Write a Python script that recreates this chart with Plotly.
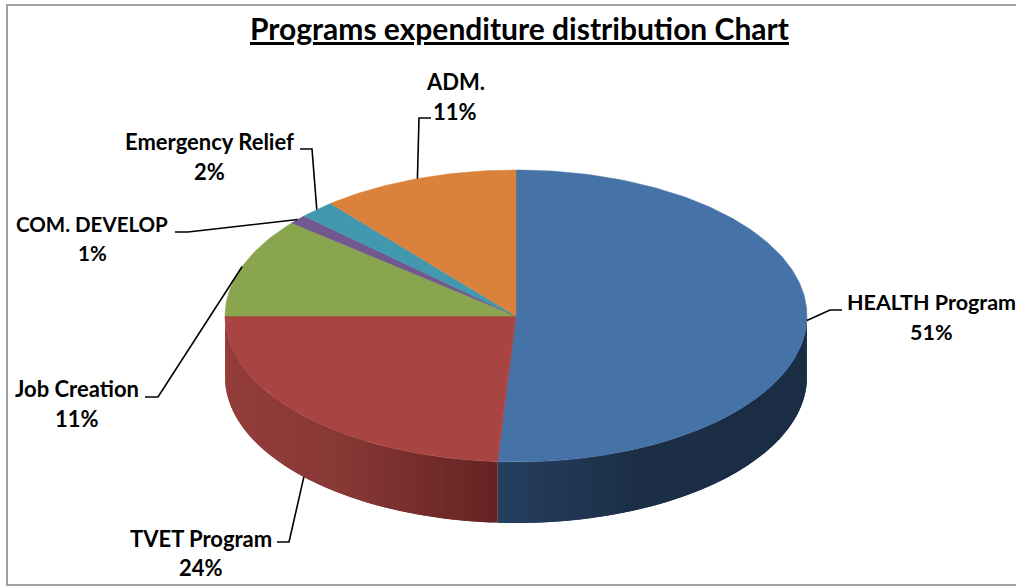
import math
import plotly.graph_objects as go

# Programme shares of total expenditure, in percent, clockwise from twelve o'clock
programs = ["HEALTH Program", "TVET Program", "Job Creation", "COM. DEVELOP", "Emergency Relief", "ADM."]
shares = [51, 24, 11, 1, 2, 11]
top_colors = ["#4572A7", "#A84542", "#89A54E", "#71588F", "#4198AF", "#DA823C"]

TITLE = "Programs expenditure distribution Chart"
FONT = "Lato, Carlito, Calibri, sans-serif"

# Projected pie geometry, in page pixels
CX, CY, RX, RY, DEPTH = 516, 316, 291, 146, 61

# Wall shading: (page x, rgb) stops per front-facing slice
wall_stops = {
    "HEALTH Program": [(496, (38, 64, 97)), (640, (27, 46, 70)), (807, (27, 45, 68))],
    "TVET Program": [(225, (148, 61, 58)), (340, (136, 56, 53)), (496, (101, 36, 35))],
}

# Name-line centre, line gap, font size and leader elbow positions for each label
label_layout = {
    "HEALTH Program": dict(x=931, y=302, gap=30, size=21.5, elbow=[(830, 310), (842, 310)]),
    "TVET Program": dict(x=201, y=538, gap=29, size=22, elbow=[(289, 542), (277, 542)]),
    "Job Creation": dict(x=77, y=388, gap=30, size=22, elbow=[(158, 397), (145, 397)]),
    "COM. DEVELOP": dict(x=92, y=224, gap=29, size=20.5, elbow=[(188, 232), (175, 232)]),
    "Emergency Relief": dict(x=209, y=141, gap=30, size=22, elbow=[(312, 149), (300, 149)]),
    "ADM.": dict(x=455, y=81, gap=30, size=22, elbow=[(419, 118), (431, 118)]),
}


def point(frac, drop=0.0):
    a = 2 * math.pi * frac
    return CX + RX * math.sin(a), CY - RY * math.cos(a) + drop


def shade(stops, x):
    if x <= stops[0][0]:
        return stops[0][1]
    for (x0, c0), (x1, c1) in zip(stops, stops[1:]):
        if x <= x1:
            t = (x - x0) / (x1 - x0)
            return tuple(round(a + (b - a) * t) for a, b in zip(c0, c1))
    return stops[-1][1]


total = sum(shares)
bounds = [0]
for s in shares:
    bounds.append(bounds[-1] + s / total)

fig = go.Figure()

# Front wall of the disc: overlapping narrow strips, painted in order, give the gradient
for name, f0, f1 in zip(programs, bounds, bounds[1:]):
    lo, hi = max(f0, 0.25), min(f1, 0.75)
    if lo >= hi or name not in wall_stops:
        continue
    n = max(2, int((hi - lo) * 300))
    for i in range(n):
        a = lo + (hi - lo) * i / n
        b = min(hi, lo + (hi - lo) * (i + 2) / n)
        arc = [a + (b - a) * k / 6 for k in range(7)]
        top = [point(f) for f in arc]
        bot = [point(f, DEPTH) for f in reversed(arc)]
        pts = top + bot + top[:1]
        r, g, bl = shade(wall_stops[name], point(a)[0])
        fig.add_trace(go.Scatter(
            x=[p[0] for p in pts], y=[p[1] for p in pts],
            mode="lines", fill="toself", fillcolor=f"rgb({r},{g},{bl})",
            line=dict(width=0), hoverinfo="skip", showlegend=False,
        ))

# Top face of each slice
for name, share, col, f0, f1 in zip(programs, shares, top_colors, bounds, bounds[1:]):
    n = max(6, int((f1 - f0) * 360))
    arc = [f0 + (f1 - f0) * k / n for k in range(n + 1)]
    pts = [(CX, CY)] + [point(f) for f in arc] + [(CX, CY)]
    fig.add_trace(go.Scatter(
        x=[p[0] for p in pts], y=[p[1] for p in pts],
        mode="lines", fill="toself", fillcolor=col,
        line=dict(color=col, width=0.5), name=name,
        text=f"{name}: {share}%", hoverinfo="text", showlegend=False,
    ))

# Labels and leader lines: each leader starts at its slice's mid-angle on the rim
annotations = [dict(
    x=519, y=28, xref="x", yref="y", text=f"<b>{TITLE}</b>", showarrow=False,
    font=dict(family=FONT, size=30, color="#000000", lineposition="under"),
)]
for name, share, f0, f1 in zip(programs, shares, bounds, bounds[1:]):
    mid = (f0 + f1) / 2
    drop = DEPTH if 0.25 < mid < 0.75 and name != "HEALTH Program" else 0
    start = point(mid, drop)
    lay = label_layout[name]
    path = [start] + lay["elbow"]
    fig.add_trace(go.Scatter(
        x=[p[0] for p in path], y=[p[1] for p in path], mode="lines",
        line=dict(color="#000000", width=1.6), hoverinfo="skip", showlegend=False,
    ))
    for text, y in ((name, lay["y"]), (f"{share}%", lay["y"] + lay["gap"])):
        annotations.append(dict(
            x=lay["x"], y=y, xref="x", yref="y", text=f"<b>{text}</b>", showarrow=False,
            font=dict(family=FONT, size=lay["size"], color="#000000"),
        ))

fig.update_layout(
    width=1016, height=588, autosize=False,
    margin=dict(l=0, r=0, t=0, b=0),
    paper_bgcolor="#ffffff", plot_bgcolor="#ffffff",
    xaxis=dict(range=[0, 1016], visible=False, fixedrange=True),
    yaxis=dict(range=[588, 0], visible=False, fixedrange=True),
    annotations=annotations,
    shapes=[dict(type="rect", xref="x", yref="y", x0=7, y0=5, x1=1030, y1=585,
                 line=dict(color="#A0A0A0", width=2), layer="below")],
)

fig.write_html("out.html", config=dict(displayModeBar=False))
